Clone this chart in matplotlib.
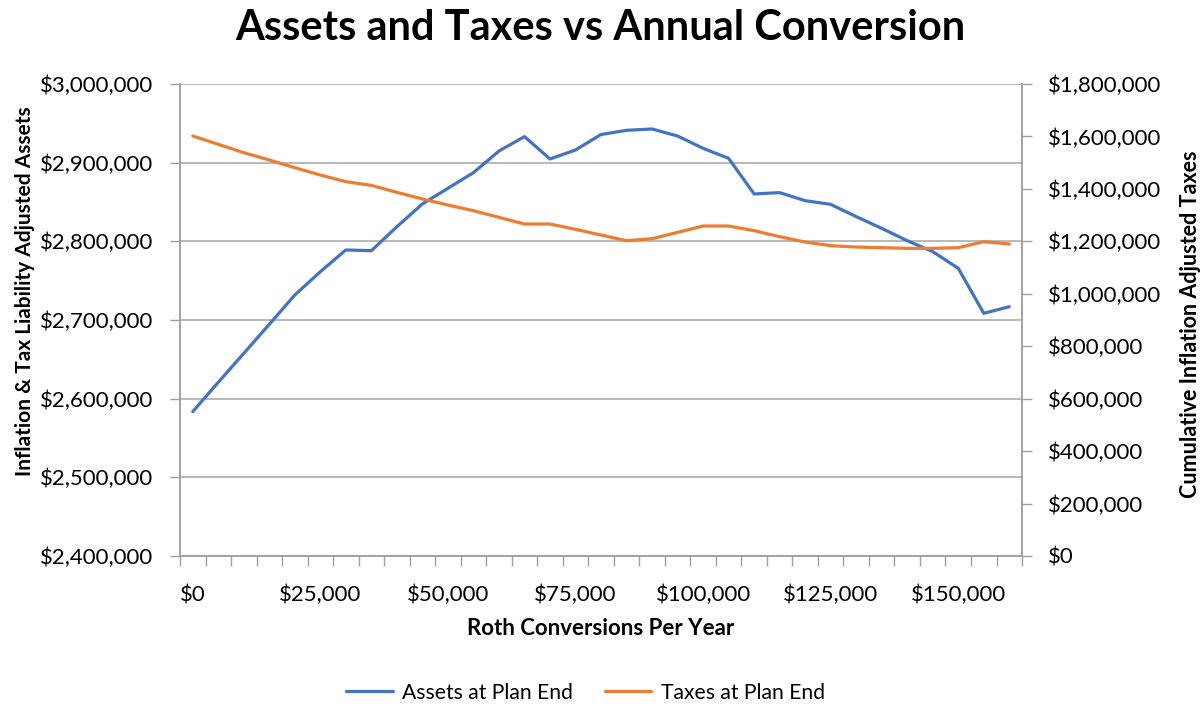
import matplotlib
matplotlib.use("Agg")
import matplotlib.pyplot as plt
from matplotlib.ticker import FuncFormatter, FixedLocator, MultipleLocator

# ── Data ──────────────────────────────────────────────────────────────────────
conversions = [0, 5000, 10000, 15000, 20000, 25000, 30000, 35000, 40000, 45000,
               50000, 55000, 60000, 65000, 70000, 75000, 80000, 85000, 90000,
               95000, 100000, 105000, 110000, 115000, 120000, 125000, 130000,
               135000, 140000, 145000, 150000, 155000, 160000]

assets_at_end = [2583500, 2620800, 2657600, 2694500, 2731800, 2761400, 2789000,
                 2788100, 2818600, 2847500, 2867400, 2887300, 2914800, 2933100,
                 2904700, 2916100, 2935800, 2941100, 2942800, 2933900, 2918200,
                 2905500, 2860200, 2861900, 2851700, 2847000, 2831400, 2816500,
                 2800800, 2786900, 2765700, 2708500, 2716900]

taxes_at_end = [1601700, 1569900, 1538000, 1510100, 1480800, 1452800, 1427400,
                1413400, 1386800, 1361400, 1338500, 1316800, 1291400, 1266000,
                1266000, 1245600, 1224000, 1202400, 1210000, 1234200, 1258400,
                1258400, 1240600, 1217600, 1197300, 1183300, 1178200, 1175700,
                1173200, 1173200, 1175700, 1198600, 1189800]

# ── Style ─────────────────────────────────────────────────────────────────────
plt.rcParams["font.family"] = ["Lato", "DejaVu Sans"]
BLUE = "#4472C4"
ORANGE = "#ED7D31"
GRID = "#a6a6a6"
AXIS = "#a0a0a0"

dollars = FuncFormatter(lambda v, _: f"${v:,.0f}")

fig = plt.figure(figsize=(12, 7.07), dpi=100)
ax = fig.add_axes([0.15, 0.2136, 0.7017, 0.6676])
ax2 = ax.twinx()

idx = list(range(len(conversions)))
ax.plot(idx, assets_at_end, color=BLUE, lw=2.3, solid_capstyle="round",
        solid_joinstyle="round", label="Assets at Plan End", zorder=3)
ax2.plot(idx, taxes_at_end, color=ORANGE, lw=2.3, solid_capstyle="round",
         solid_joinstyle="round", label="Taxes at Plan End", zorder=3)

# left axis
ax.set_ylim(2400000, 3000000)
ax.yaxis.set_major_locator(MultipleLocator(100000))
ax.yaxis.set_major_formatter(dollars)
ax.grid(axis="y", color=GRID, lw=1.1)
ax.set_axisbelow(True)

# right axis
ax2.set_ylim(0, 1800000)
ax2.yaxis.set_major_locator(MultipleLocator(200000))
ax2.yaxis.set_major_formatter(dollars)

# category x axis: labels every $25,000, tick marks between categories
ax.set_xlim(-0.5, len(conversions) - 0.5)
label_pos = [i for i, c in enumerate(conversions) if c % 25000 == 0]
ax.xaxis.set_major_locator(FixedLocator(label_pos))
ax.set_xticklabels([f"${conversions[i]:,}" for i in label_pos])
ax.xaxis.set_minor_locator(FixedLocator([i - 0.5 for i in range(len(conversions) + 1)]))
ax.tick_params(axis="x", which="major", length=0, pad=21, labelsize=16)
ax.tick_params(axis="x", which="minor", length=7, color=AXIS, width=1)
ax.tick_params(axis="y", length=7, color=AXIS, width=1, pad=12, labelsize=16)
ax2.tick_params(axis="y", length=7, color=AXIS, width=1, pad=12, labelsize=16)

for a in (ax, ax2):
    a.spines["top"].set_visible(False)
    for side in ("left", "right", "bottom"):
        a.spines[side].set_color(AXIS)
        a.spines[side].set_linewidth(1.1)

ax.set_xlabel("Roth Conversions Per Year", fontsize=16, fontweight="bold")
ax.xaxis.set_label_coords(0.5, -0.131)
ax.set_ylabel("Inflation & Tax Liability Adjusted Assets", fontsize=15,
              fontweight="bold")
ax.yaxis.set_label_coords(-0.172, 0.56)
ax2.set_ylabel("Cumulative Inflation Adjusted Taxes", fontsize=15.5,
               fontweight="bold")
ax2.yaxis.set_label_coords(1.1876, 0.49)

fig.suptitle("Assets and Taxes vs Annual Conversion", fontsize=30,
             fontweight="bold", y=0.96, va="center")

h1, l1 = ax.get_legend_handles_labels()
h2, l2 = ax2.get_legend_handles_labels()
fig.legend(h1 + h2, l1 + l2, loc="center", bbox_to_anchor=(0.488, 0.02),
           ncol=2, frameon=False, fontsize=15.2, handlelength=2.2,
           columnspacing=1.5, handletextpad=0.45)

fig.savefig("out.png", dpi=100)
